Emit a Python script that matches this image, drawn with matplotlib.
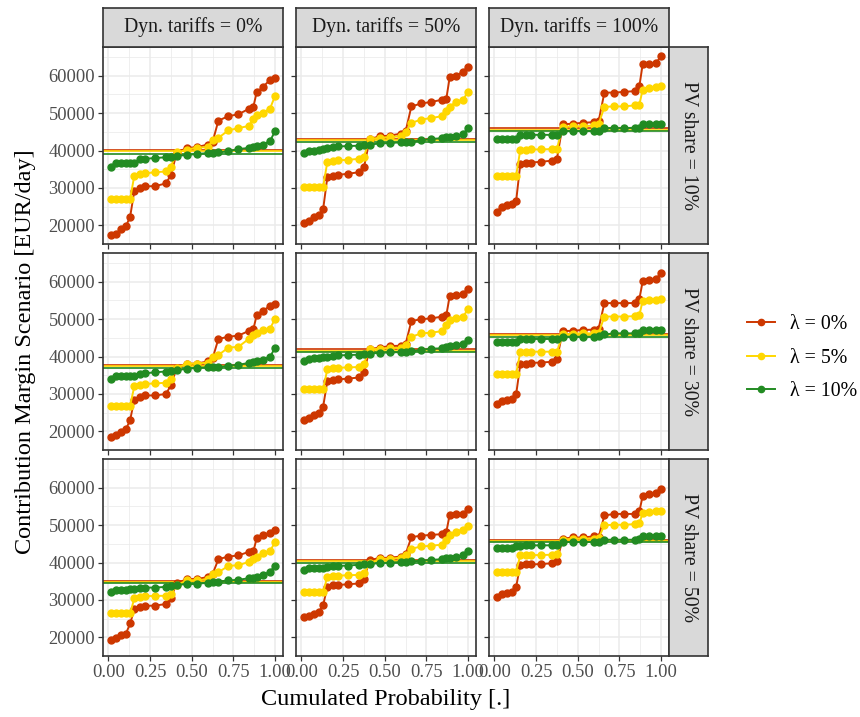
import matplotlib
matplotlib.use("Agg")
import matplotlib.pyplot as plt
from matplotlib.lines import Line2D
import numpy as np

plt.rcParams['font.family'] = ['Liberation Serif', 'DejaVu Serif']

# ---------------- data ----------------
cum_prob = [0.015, 0.045, 0.075, 0.105, 0.13, 0.155, 0.19, 0.22, 0.28, 0.345, 0.375,
            0.41, 0.47, 0.53, 0.595, 0.625, 0.66, 0.72, 0.78, 0.845, 0.87, 0.89,
            0.925, 0.97, 1.0]

dyn_tariffs = ["Dyn. tariffs = 0%", "Dyn. tariffs = 50%", "Dyn. tariffs = 100%"]
pv_shares = ["PV share = 10%", "PV share = 30%", "PV share = 50%"]
lambda_labels = ["λ = 0%", "λ = 5%", "λ = 10%"]
lambda_colors = ["#CD3700", "#FFD700", "#228B22"]

# PV share 10%
pv10_dyn0_l0 = [17400, 17750, 18900, 19800, 22300, 29200, 29900, 30400, 30500, 31200, 33500, 39400, 40700, 40900, 41600, 42300, 48000, 49200, 49700, 51200, 51700, 55600, 56900, 58900, 59500]
pv10_dyn0_l5 = [27000, 27000, 27000, 27000, 27000, 33300, 33700, 33900, 34200, 34400, 35700, 39500, 40200, 40800, 40900, 42700, 43400, 45400, 46000, 46600, 48500, 49400, 50100, 51200, 54600]
pv10_dyn0_l10 = [35500, 36600, 36600, 36600, 36700, 36700, 37700, 37800, 38000, 38200, 38300, 38600, 38800, 39100, 39300, 39400, 39500, 39800, 40400, 40700, 41000, 41300, 41600, 42500, 45200]
pv10_dyn50_l0 = [20700, 21200, 22200, 22800, 24300, 32800, 33300, 33500, 33800, 34200, 35500, 43100, 43800, 44000, 44500, 45100, 51800, 52600, 53000, 53600, 53900, 59600, 59900, 61100, 62400]
pv10_dyn50_l5 = [30300, 30300, 30300, 30300, 30300, 36900, 37300, 37400, 37500, 37800, 38400, 43100, 43400, 43600, 43800, 44900, 47400, 48300, 48700, 49200, 50500, 51600, 53000, 53600, 55700]
pv10_dyn50_l10 = [39300, 40000, 40000, 40100, 40300, 40700, 41000, 41100, 41200, 41300, 41400, 41600, 41900, 42000, 42200, 42300, 42400, 42700, 43100, 43300, 43500, 43700, 43900, 44300, 46100]
pv10_dyn100_l0 = [23600, 25000, 25400, 25800, 26500, 36400, 36700, 36800, 37000, 37300, 37800, 47000, 47200, 47400, 47600, 47800, 55500, 55500, 55700, 55900, 57200, 63100, 63200, 63300, 65300]
pv10_dyn100_l5 = [33300, 33300, 33300, 33300, 33300, 40200, 40200, 40300, 40300, 40400, 40500, 46300, 46500, 46500, 46700, 47000, 51700, 51800, 51800, 52100, 52300, 56300, 56600, 56900, 57200]
pv10_dyn100_l10 = [43100, 43100, 43100, 43100, 43100, 44200, 44200, 44200, 44200, 44200, 44200, 45200, 45200, 45200, 45200, 45200, 46000, 46000, 46000, 46100, 46100, 47000, 47000, 47000, 47000]

# PV share 30%
pv30_dyn0_l0 = [18600, 19000, 19900, 20600, 23000, 28500, 29300, 29600, 29600, 30000, 32300, 37000, 38100, 38100, 38700, 39500, 44700, 45300, 45600, 46900, 47300, 51100, 52200, 53500, 54100]
pv30_dyn0_l5 = [26900, 26900, 26900, 26900, 26900, 32000, 32500, 32700, 32800, 33000, 34100, 37000, 38100, 38100, 38400, 39900, 40400, 42400, 42600, 44800, 45800, 46300, 47100, 47500, 50000]
pv30_dyn0_l10 = [33900, 34700, 34700, 34700, 34700, 34900, 35400, 35500, 35800, 36000, 36100, 36400, 36700, 37000, 37100, 37100, 37200, 37500, 37800, 38300, 38500, 38700, 39200, 39900, 42300]
pv30_dyn50_l0 = [23100, 23500, 24400, 24900, 26600, 33400, 33800, 33900, 34100, 34400, 35900, 42000, 42400, 42800, 42900, 43300, 49500, 50000, 50200, 50700, 51100, 56200, 56500, 56800, 58100]
pv30_dyn50_l5 = [31200, 31200, 31200, 31200, 31200, 36600, 36900, 37000, 37100, 37200, 38100, 41900, 42100, 42300, 42300, 43000, 45300, 46200, 46400, 46800, 48500, 49900, 50400, 50700, 52600]
pv30_dyn50_l10 = [38700, 39400, 39500, 39600, 39800, 39900, 40200, 40300, 40400, 40500, 40700, 40800, 41000, 41100, 41200, 41300, 41400, 41800, 42100, 42200, 42500, 42700, 43000, 43300, 44500]
pv30_dyn100_l0 = [27300, 28000, 28500, 28700, 29900, 37900, 38100, 38300, 38400, 38600, 39300, 46800, 46900, 47100, 47200, 47400, 54300, 54300, 54300, 54300, 55400, 60100, 60500, 60800, 62300]
pv30_dyn100_l5 = [35400, 35400, 35400, 35400, 35400, 41200, 41300, 41300, 41300, 41300, 41300, 45900, 46100, 46200, 46200, 46200, 50700, 50700, 50700, 50800, 51100, 54900, 55100, 55200, 55400]
pv30_dyn100_l10 = [43800, 43800, 43800, 43800, 43800, 44700, 44700, 44700, 44700, 44700, 44700, 45300, 45300, 45300, 45300, 45500, 45900, 46200, 46200, 46200, 46200, 47000, 47100, 47100, 47100]

# PV share 50%
pv50_dyn0_l0 = [19400, 19900, 20500, 21000, 23700, 27500, 28100, 28400, 28500, 28900, 30600, 34400, 35600, 35600, 36100, 36900, 40900, 41600, 41900, 42900, 43000, 46500, 47400, 47900, 48800]
pv50_dyn0_l5 = [26400, 26400, 26400, 26400, 26400, 30400, 30800, 31000, 31100, 31100, 31700, 34000, 35200, 35300, 35500, 36900, 37400, 39100, 39300, 40200, 40900, 41600, 42500, 43100, 45400]
pv50_dyn0_l10 = [32000, 32600, 32600, 32600, 32800, 32900, 33200, 33300, 33300, 33500, 33700, 34100, 34200, 34300, 34600, 34800, 34900, 35200, 35400, 35800, 36000, 36200, 36700, 37500, 39200]
pv50_dyn50_l0 = [25500, 25700, 26200, 26800, 28600, 33500, 33900, 34000, 34200, 34400, 35600, 40700, 41200, 41300, 41600, 42200, 46800, 47200, 47400, 47600, 48200, 52800, 53000, 53000, 54200]
pv50_dyn50_l5 = [32000, 32000, 32000, 32000, 32000, 36200, 36400, 36500, 36600, 36700, 37100, 39800, 41000, 41000, 41300, 41900, 43700, 44300, 44500, 44800, 46100, 47500, 48300, 48800, 49700]
pv50_dyn50_l10 = [38000, 38500, 38500, 38500, 38600, 38700, 39000, 39100, 39200, 39400, 39600, 39700, 39800, 40000, 40100, 40200, 40300, 40500, 40700, 40900, 41100, 41300, 41600, 41900, 43100]
pv50_dyn100_l0 = [30800, 31500, 31800, 32000, 33500, 39400, 39500, 39500, 39600, 39800, 40400, 46400, 46700, 46700, 47000, 46700, 52600, 53000, 53000, 53000, 53700, 57800, 58400, 58700, 59600]
pv50_dyn100_l5 = [37600, 37600, 37600, 37600, 37600, 41900, 42000, 42000, 42000, 42100, 42200, 46100, 46400, 46400, 46400, 46500, 50000, 50100, 50100, 50300, 50500, 53300, 53500, 53700, 53900]
pv50_dyn100_l10 = [44000, 44000, 44000, 44000, 44300, 44500, 44600, 44600, 44600, 44600, 44600, 45500, 45500, 45500, 45500, 45600, 46100, 46100, 46100, 46100, 46300, 47000, 47000, 47000, 47000]

# expected values (horizontal lines), order: lambda 0%, 5%, 10%
mean_pv10_dyn0 = [40200, 39800, 39100]
mean_pv10_dyn50 = [43000, 42700, 42200]
mean_pv10_dyn100 = [45900, 45600, 45100]
mean_pv30_dyn0 = [37700, 37400, 36950]
mean_pv30_dyn50 = [41900, 41500, 41100]
mean_pv30_dyn100 = [46000, 45700, 45300]
mean_pv50_dyn0 = [35100, 34900, 34400]
mean_pv50_dyn50 = [40700, 40400, 40000]
mean_pv50_dyn100 = [46100, 45800, 45500]

series = [
    [[pv10_dyn0_l0, pv10_dyn0_l5, pv10_dyn0_l10],
     [pv10_dyn50_l0, pv10_dyn50_l5, pv10_dyn50_l10],
     [pv10_dyn100_l0, pv10_dyn100_l5, pv10_dyn100_l10]],
    [[pv30_dyn0_l0, pv30_dyn0_l5, pv30_dyn0_l10],
     [pv30_dyn50_l0, pv30_dyn50_l5, pv30_dyn50_l10],
     [pv30_dyn100_l0, pv30_dyn100_l5, pv30_dyn100_l10]],
    [[pv50_dyn0_l0, pv50_dyn0_l5, pv50_dyn0_l10],
     [pv50_dyn50_l0, pv50_dyn50_l5, pv50_dyn50_l10],
     [pv50_dyn100_l0, pv50_dyn100_l5, pv50_dyn100_l10]],
]
means = [
    [mean_pv10_dyn0, mean_pv10_dyn50, mean_pv10_dyn100],
    [mean_pv30_dyn0, mean_pv30_dyn50, mean_pv30_dyn100],
    [mean_pv50_dyn0, mean_pv50_dyn50, mean_pv50_dyn100],
]

# ---------------- layout ----------------
W, H = 860, 717
fig = plt.figure(figsize=(W / 100, H / 100), dpi=100)

def rect(left, top, w, h):
    return [left / W, 1 - (top + h) / H, w / W, h / H]

col_left = [103, 296, 489]
panel_w = 180
row_top = [47, 253, 459]
panel_h = 197

allv = np.concatenate([np.ravel(s) for row in series for s in row])
ymin, ymax = allv.min(), allv.max()
pad = 0.05 * (ymax - ymin)
ylim = (ymin - pad, ymax + pad)
xlim = (-0.033, 1.048)

border_col = "#333333"
tick_col = "#4D4D4D"
grid_col = "#EBEBEB"

for r in range(3):
    for c in range(3):
        ax = fig.add_axes(rect(col_left[c], row_top[r], panel_w, panel_h))
        ax.set_xlim(*xlim)
        ax.set_ylim(*ylim)
        ax.set_xticks([0, 0.25, 0.5, 0.75, 1.0])
        ax.set_xticks([0.125, 0.375, 0.625, 0.875], minor=True)
        ax.set_yticks([20000, 30000, 40000, 50000, 60000])
        ax.set_yticks([25000, 35000, 45000, 55000, 65000], minor=True)
        ax.grid(which='major', color=grid_col, lw=1.1, zorder=0)
        ax.grid(which='minor', color=grid_col, lw=0.55, zorder=0)
        ax.set_axisbelow(True)
        for sp in ax.spines.values():
            sp.set_color(border_col)
            sp.set_linewidth(1.2)
        ax.tick_params(which='minor', length=0)
        ax.tick_params(which='major', length=3.5, width=0.9, color=border_col,
                       labelsize=13.3, labelcolor=tick_col, pad=2)
        if c == 0:
            ax.set_yticklabels(["20000", "30000", "40000", "50000", "60000"])
        else:
            ax.tick_params(axis='y', labelleft=False)
        if r == 2:
            ax.set_xticklabels(["0.00", "0.25", "0.50", "0.75", "1.00"])
        else:
            ax.tick_params(axis='x', labelbottom=False)

        for k in range(3):
            ax.axhline(means[r][c][k], color=lambda_colors[k], lw=1.2, zorder=2)
        for k in range(3):
            ax.plot(cum_prob, series[r][c][k], color=lambda_colors[k], lw=1.4,
                    marker='o', ms=5.0, zorder=3 + k)

# top strips
for c in range(3):
    sax = fig.add_axes(rect(col_left[c], 8, panel_w, 39))
    sax.set_facecolor("#D9D9D9")
    sax.set_xticks([]); sax.set_yticks([])
    for sp in sax.spines.values():
        sp.set_color(border_col); sp.set_linewidth(1.2)
    sax.text(0.5, 0.5, dyn_tariffs[c], ha='center', va='center',
             fontsize=14.2, color='#1A1A1A', transform=sax.transAxes)

# right strips
for r in range(3):
    sax = fig.add_axes(rect(669, row_top[r], 39, panel_h))
    sax.set_facecolor("#D9D9D9")
    sax.set_xticks([]); sax.set_yticks([])
    for sp in sax.spines.values():
        sp.set_color(border_col); sp.set_linewidth(1.2)
    sax.text(0.5, 0.5, pv_shares[r], ha='center', va='center', rotation=-90,
             fontsize=14.2, color='#1A1A1A', transform=sax.transAxes)

# axis titles
fig.text(386 / W, 1 - 700 / H, "Cumulated Probability [.]", ha='center', va='center',
         fontsize=17.5)
fig.text(26 / W, 1 - 352 / H, "Contribution Margin Scenario [EUR/day]", ha='center',
         va='center', rotation=90, fontsize=17.5)

# legend
handles = [Line2D([0], [0], color=lambda_colors[k], lw=1.4, marker='o', ms=4.5)
           for k in range(3)]
fig.legend(handles, lambda_labels, loc='center left',
           bbox_to_anchor=(729 / W, 1 - 358 / H), frameon=False, fontsize=14.3,
           handlelength=1.4, labelspacing=0.75, handletextpad=0.75)

fig.savefig("out.png", dpi=100)
